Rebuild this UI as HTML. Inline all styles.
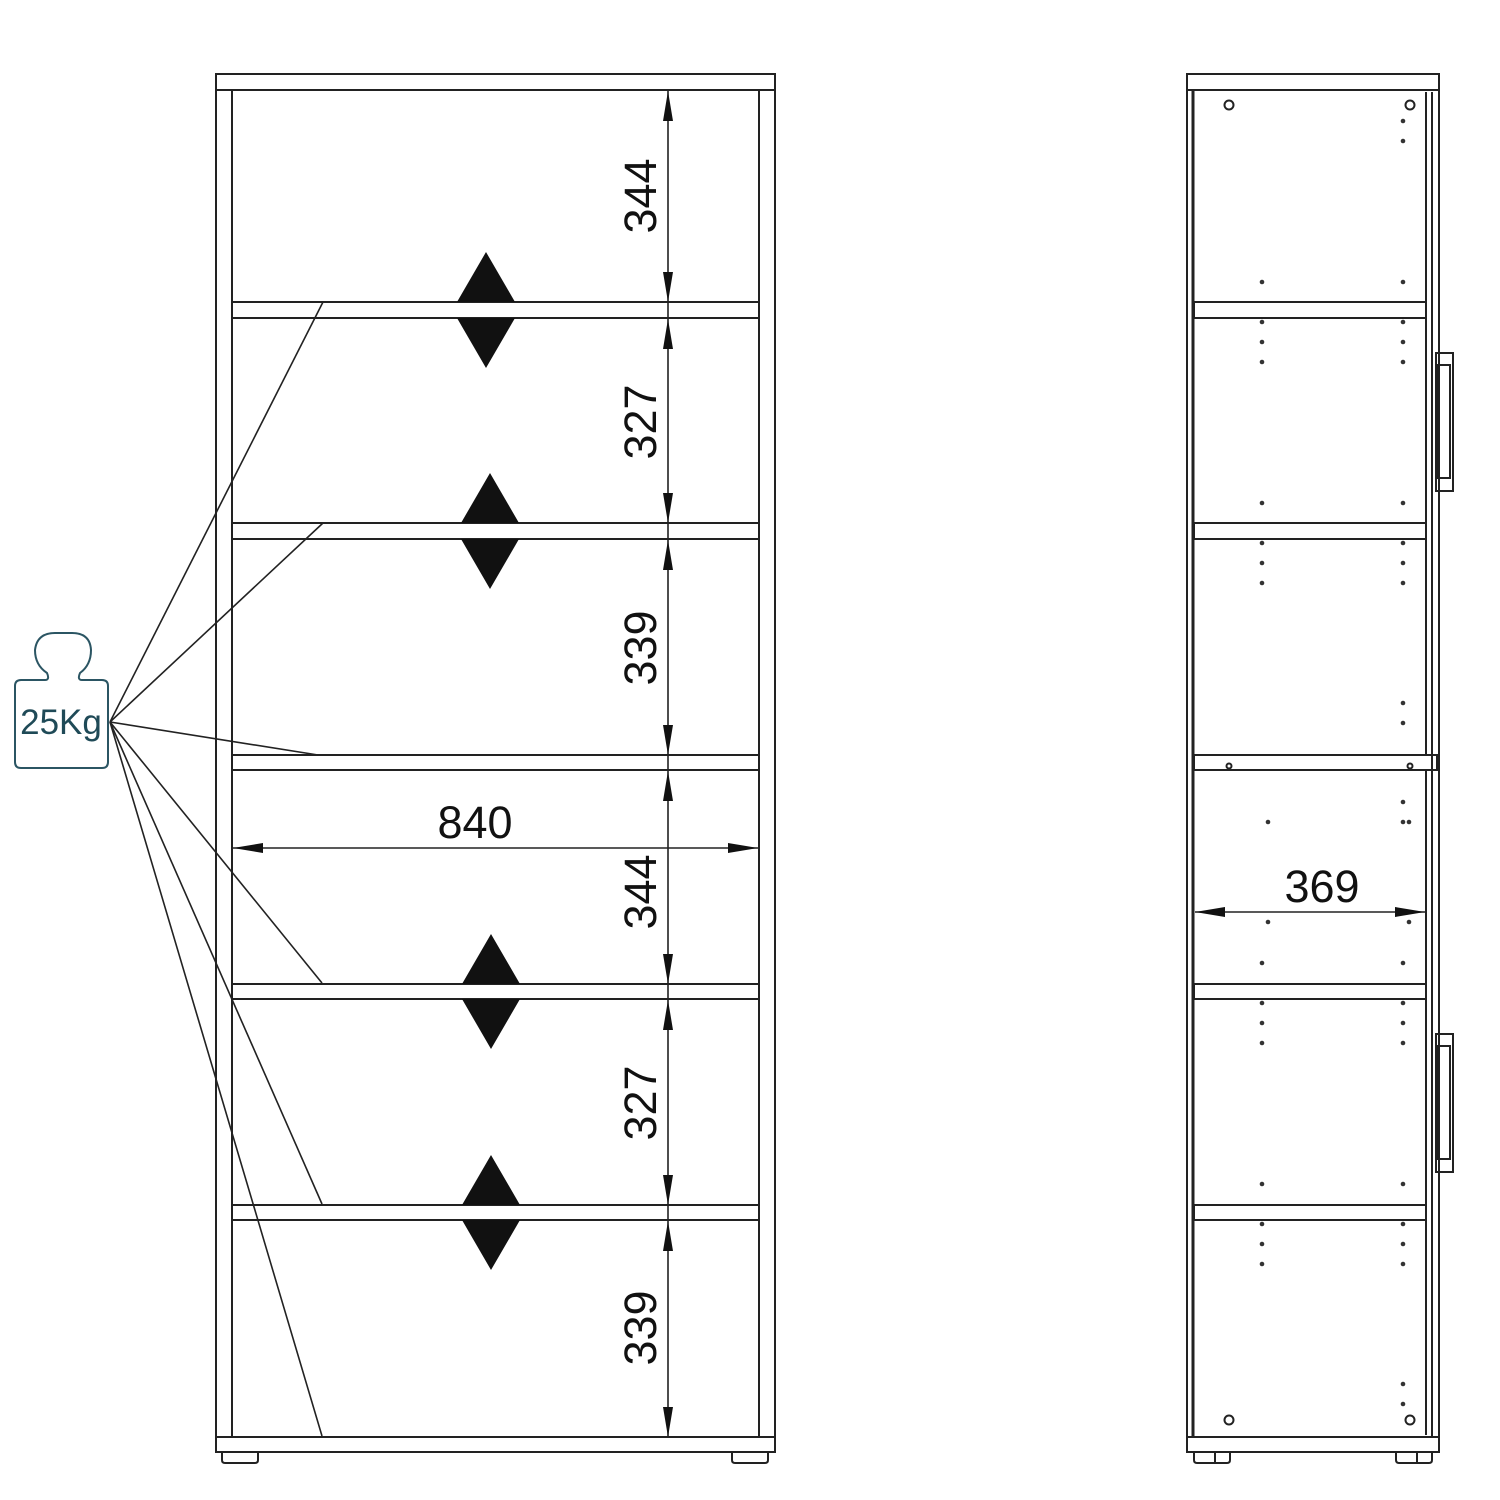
<!DOCTYPE html>
<html><head><meta charset="utf-8"><style>
html,body{margin:0;padding:0;background:#fff;width:1500px;height:1500px;overflow:hidden}
svg{display:block}
text{font-family:"Liberation Sans",sans-serif;fill:#111}
</style></head><body>
<svg width="1500" height="1500" viewBox="0 0 1500 1500" xmlns="http://www.w3.org/2000/svg">
<g fill="none" stroke="#222" stroke-width="2">
<rect x="216" y="74" width="559" height="16"/>
<rect x="216" y="90" width="16" height="1347"/>
<rect x="759" y="90" width="16" height="1347"/>
<rect x="216" y="1437" width="559" height="15"/>
<path d="M222 1452 v8 q0 3 3 3 h30 q3 0 3 -3 v-8 M732 1452 v8 q0 3 3 3 h30 q3 0 3 -3 v-8"/>
<rect x="232" y="302" width="527" height="16"/>
<rect x="232" y="523" width="527" height="16"/>
<rect x="232" y="755" width="527" height="15"/>
<rect x="232" y="984" width="527" height="15"/>
<rect x="232" y="1205" width="527" height="15"/>
<g stroke-width="1.6">
<line x1="110" y1="722" x2="323" y2="302"/>
<line x1="110" y1="722" x2="323" y2="523"/>
<line x1="110" y1="722" x2="318" y2="755"/>
<line x1="110" y1="722" x2="322" y2="983"/>
<line x1="110" y1="722" x2="322" y2="1204"/>
<line x1="110" y1="722" x2="322" y2="1436"/>
</g>
<line x1="668" y1="90" x2="668" y2="1437" stroke-width="1.6"/>
<line x1="233" y1="848" x2="758" y2="848" stroke-width="1.6"/>
</g>
<g fill="#111">
<polygon points="663,272 673,272 668,302"/>
<polygon points="663,121 673,121 668,91"/>
<polygon points="663,349 673,349 668,319"/>
<polygon points="663,493 673,493 668,523"/>
<polygon points="663,570 673,570 668,540"/>
<polygon points="663,725 673,725 668,755"/>
<polygon points="663,801 673,801 668,771"/>
<polygon points="663,954 673,954 668,984"/>
<polygon points="663,1030 673,1030 668,1000"/>
<polygon points="663,1175 673,1175 668,1205"/>
<polygon points="663,1251 673,1251 668,1221"/>
<polygon points="663,1407 673,1407 668,1437"/>
<polygon points="263,843 263,853 233,848"/>
<polygon points="728,843 728,853 758,848"/>
<polygon points="457,302 486,252 515,302"/><polygon points="457,318 486,368 515,318"/>
<polygon points="461,523 490,473 519,523"/><polygon points="461,539 490,589 519,539"/>
<polygon points="462,984 491,934 520,984"/><polygon points="462,999 491,1049 520,999"/>
<polygon points="462,1205 491,1155 520,1205"/><polygon points="462,1220 491,1270 520,1220"/>
</g>
<g font-size="45">
<text transform="translate(656,196) rotate(-90)" text-anchor="middle">344</text>
<text transform="translate(656,422) rotate(-90)" text-anchor="middle">327</text>
<text transform="translate(656,648) rotate(-90)" text-anchor="middle">339</text>
<text transform="translate(656,892) rotate(-90)" text-anchor="middle">344</text>
<text transform="translate(656,1103) rotate(-90)" text-anchor="middle">327</text>
<text transform="translate(656,1328) rotate(-90)" text-anchor="middle">339</text>
<text x="475" y="838" text-anchor="middle">840</text>
<text x="1322" y="902" text-anchor="middle">369</text>
</g>
<path d="M38 680 H45 Q50 680 47 673 Q35 665 35 650 Q37 633 55 633 H72 Q90 633 91 650 Q91 665 80 673 Q77 680 82 680 H102 Q108 680 108 686 V762 Q108 768 102 768 H21 Q15 768 15 762 V686 Q15 680 21 680 Z" fill="none" stroke="#2b5563" stroke-width="2"/>
<text x="61" y="734" text-anchor="middle" font-size="35" style="fill:#1f4a57">25Kg</text>

<g fill="none" stroke="#222" stroke-width="2">
<rect x="1187" y="74" width="252" height="16"/>
<line x1="1187" y1="90" x2="1187" y2="1437"/>
<line x1="1193" y1="90" x2="1193" y2="1437" stroke-width="3"/>
<line x1="1426" y1="92" x2="1426" y2="755"/>
<line x1="1426" y1="770" x2="1426" y2="1435"/>
<line x1="1432" y1="92" x2="1432" y2="1437"/>
<line x1="1439" y1="90" x2="1439" y2="1437"/>
<rect x="1187" y="1437" width="252" height="15"/>
<path d="M1194 1452 v8 q0 3 3 3 h30 q3 0 3 -3 v-8 M1215 1452 v11 M1396 1452 v8 q0 3 3 3 h30 q3 0 3 -3 v-8 M1417 1452 v11"/>
<rect x="1194" y="302" width="232" height="16"/>
<rect x="1194" y="523" width="232" height="16"/>
<rect x="1194" y="755" width="243" height="15"/>
<rect x="1194" y="984" width="232" height="15"/>
<rect x="1194" y="1205" width="232" height="15"/>
<rect x="1436" y="353" width="17" height="138"/>
<rect x="1437" y="365" width="13" height="113"/>
<rect x="1436" y="1034" width="17" height="138"/>
<rect x="1437" y="1046" width="13" height="113"/>
<circle cx="1229" cy="105" r="4.5"/><circle cx="1410" cy="105" r="4.5"/>
<circle cx="1229" cy="1420" r="4.5"/><circle cx="1410" cy="1420" r="4.5"/>
<circle cx="1229" cy="766" r="2.5"/><circle cx="1410" cy="766" r="2.5"/>
<line x1="1195" y1="912" x2="1425" y2="912" stroke-width="1.6"/>
</g>
<g fill="#111">
<polygon points="1225,907 1225,917 1195,912"/>
<polygon points="1395,907 1395,917 1425,912"/>
</g>
<g fill="#333">
<circle cx="1403" cy="121" r="2.3"/><circle cx="1403" cy="141" r="2.3"/>
<circle cx="1262" cy="282" r="2.3"/><circle cx="1262" cy="322" r="2.3"/><circle cx="1262" cy="342" r="2.3"/><circle cx="1262" cy="362" r="2.3"/>
<circle cx="1403" cy="282" r="2.3"/><circle cx="1403" cy="322" r="2.3"/><circle cx="1403" cy="342" r="2.3"/><circle cx="1403" cy="362" r="2.3"/>
<circle cx="1262" cy="503" r="2.3"/><circle cx="1262" cy="543" r="2.3"/><circle cx="1262" cy="563" r="2.3"/><circle cx="1262" cy="583" r="2.3"/>
<circle cx="1403" cy="503" r="2.3"/><circle cx="1403" cy="543" r="2.3"/><circle cx="1403" cy="563" r="2.3"/><circle cx="1403" cy="583" r="2.3"/>
<circle cx="1403" cy="703" r="2.3"/><circle cx="1403" cy="723" r="2.3"/>
<circle cx="1403" cy="802" r="2.3"/><circle cx="1268" cy="822" r="2.3"/><circle cx="1403" cy="822" r="2.3"/><circle cx="1409" cy="822" r="2.3"/>
<circle cx="1268" cy="922" r="2.3"/><circle cx="1409" cy="922" r="2.3"/>
<circle cx="1262" cy="963" r="2.3"/><circle cx="1262" cy="1003" r="2.3"/><circle cx="1262" cy="1023" r="2.3"/><circle cx="1262" cy="1043" r="2.3"/>
<circle cx="1403" cy="963" r="2.3"/><circle cx="1403" cy="1003" r="2.3"/><circle cx="1403" cy="1023" r="2.3"/><circle cx="1403" cy="1043" r="2.3"/>
<circle cx="1262" cy="1184" r="2.3"/><circle cx="1262" cy="1224" r="2.3"/><circle cx="1262" cy="1244" r="2.3"/><circle cx="1262" cy="1264" r="2.3"/>
<circle cx="1403" cy="1184" r="2.3"/><circle cx="1403" cy="1224" r="2.3"/><circle cx="1403" cy="1244" r="2.3"/><circle cx="1403" cy="1264" r="2.3"/>
<circle cx="1403" cy="1384" r="2.3"/><circle cx="1403" cy="1404" r="2.3"/>
</g>
</svg>
</body></html>
